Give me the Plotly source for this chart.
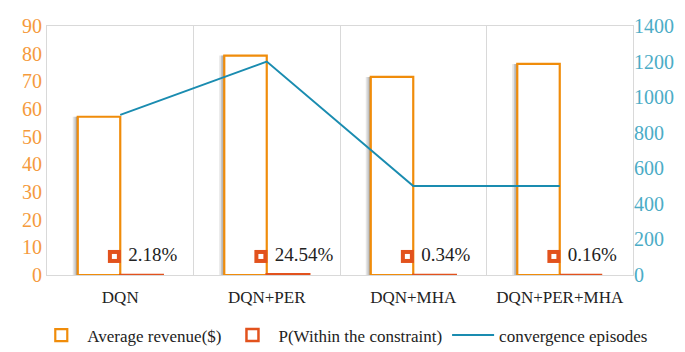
import plotly.graph_objects as go

categories = ["DQN", "DQN+PER", "DQN+MHA", "DQN+PER+MHA"]
avg_revenue = [57.2, 79.3, 71.6, 76.3]
p_within = [0.0218, 0.2454, 0.0034, 0.0016]
p_labels = ["2.18%", "24.54%", "0.34%", "0.16%"]
conv_episodes = [900, 1200, 500, 500]

ORANGE = "#F08C0A"
RED = "#E2521D"
TEAL = "#1A8CB0"
FONT = "Liberation Serif"

x = list(range(len(categories)))
W = 0.29

fig = go.Figure()

# soft shadow behind the revenue bars
for off, a in [(0.034, 0.15), (0.022, 0.22), (0.011, 0.3)]:
    fig.add_trace(go.Bar(x=x, y=avg_revenue, width=W, offset=-W - off,
                         marker=dict(color=f"rgba(80,80,80,{a})", line=dict(width=0)),
                         showlegend=False, hoverinfo="skip"))

fig.add_trace(go.Bar(name="Average revenue($)", x=x, y=avg_revenue, width=W, offset=-W,
                     marker=dict(color="white", line=dict(color=ORANGE, width=2.2))))
fig.add_trace(go.Bar(name="P(Within the constraint)", x=x, y=p_within, width=W, offset=0,
                     marker=dict(color="white", line=dict(color=RED, width=2.5))))

fig.add_trace(go.Scatter(name="convergence episodes", x=x, y=conv_episodes, yaxis="y2",
                         mode="lines", line=dict(color=TEAL, width=2)))

# data labels with legend key
fig.add_trace(go.Scatter(x=[i - 0.04 for i in x], y=[6.7] * len(x), mode="markers+text",
                         text=[" " + t for t in p_labels], textposition="middle right",
                         textfont=dict(family=FONT, size=19, color="#222222"),
                         marker=dict(symbol="square", size=13, color=RED),
                         showlegend=False, hoverinfo="skip"))
fig.add_trace(go.Scatter(x=[i - 0.04 for i in x], y=[6.7] * len(x), mode="markers",
                         marker=dict(symbol="square", size=5, color="white"),
                         showlegend=False, hoverinfo="skip"))

fig.update_layout(
    width=685, height=352,
    margin=dict(l=39, r=60, t=7, b=77),
    paper_bgcolor="white", plot_bgcolor="white",
    barmode="overlay",
    font=dict(family=FONT, size=17, color="#222222"),
    xaxis=dict(range=[-0.5, 3.5], tickvals=x, ticktext=categories,
               showgrid=False, zeroline=False, showline=True, mirror=True,
               linecolor="#D9D9D9", linewidth=1, ticks="", ticklabelstandoff=7,
               tickfont=dict(family=FONT, size=17, color="#222222"),
               minor=dict(tick0=0.5, dtick=1, showgrid=True, gridcolor="#D9D9D9", gridwidth=1)),
    yaxis=dict(range=[0, 90], dtick=10, showgrid=False, zeroline=False,
               showline=True, mirror=True, linecolor="#D9D9D9", ticks="",
               ticklabeloverflow="allow",
               tickfont=dict(family=FONT, size=20, color="#F59A3C")),
    yaxis2=dict(range=[0, 1400], dtick=200, overlaying="y", side="right",
                showgrid=False, zeroline=False, showline=False, ticks="",
                ticklabeloverflow="allow",
                tickfont=dict(family=FONT, size=20, color="#4BACC6")),
    legend=dict(orientation="h", x=-0.02, xanchor="left", y=-0.243, yanchor="middle",
                font=dict(family=FONT, size=17, color="#222222"),
                itemwidth=42, tracegroupgap=0),
)

fig.write_html("out.html")
